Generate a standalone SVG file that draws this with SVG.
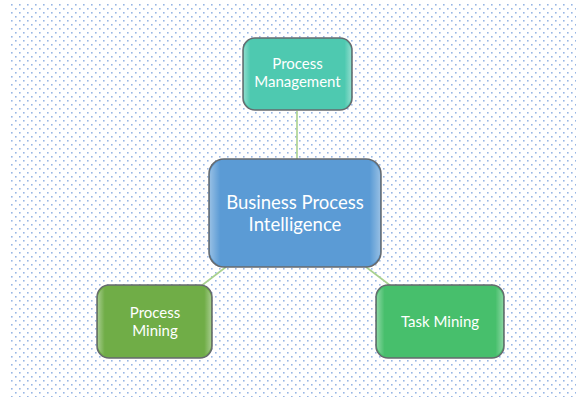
<svg xmlns="http://www.w3.org/2000/svg" width="576" height="397" viewBox="0 0 576 397">
  <defs>
    <!-- staggered dotted canvas -->
    <pattern id="dots" x="10" y="3" width="8" height="8" patternUnits="userSpaceOnUse">
      <rect x="1" y="1" width="1.6" height="1.6" fill="#98b6e4"/>
      <rect x="5" y="5" width="1.6" height="1.6" fill="#98b6e4"/>
    </pattern>
    <linearGradient id="bevel" x1="0" y1="0" x2="1" y2="0">
      <stop offset="0" stop-color="#ffffff" stop-opacity="0.35"/>
      <stop offset="0.06" stop-color="#ffffff" stop-opacity="0"/>
      <stop offset="0.94" stop-color="#ffffff" stop-opacity="0"/>
      <stop offset="1" stop-color="#ffffff" stop-opacity="0.35"/>
    </linearGradient>
  </defs>
  <style>
    .box { stroke: #666a6e; stroke-width: 1.5; }
    .shine { fill: url(#bevel); stroke: none; }
    .label { fill: #ffffff; font-family: Lato, "Open Sans", "Liberation Sans", sans-serif; text-anchor: middle; }
    .link { stroke: #a9d18e; stroke-width: 1.6; fill: none; }
  </style>

  <rect width="576" height="397" fill="#ffffff"/>
  <rect x="10" y="3" width="566" height="394" fill="url(#dots)"/>

  <g id="connectors">
    <line class="link" x1="297" y1="111" x2="297" y2="159"/>
    <line class="link" x1="226" y1="267" x2="201" y2="286"/>
    <line class="link" x1="366" y1="267" x2="391" y2="286"/>
  </g>

  <g id="process-management">
    <rect class="box" x="243" y="38" width="109" height="72" rx="12" fill="#4ec9b0"/>
    <rect class="shine" x="244" y="40" width="107" height="68" rx="11"/>
    <text class="label" font-size="15" x="297.5" y="69">Process</text>
    <text class="label" font-size="15" x="297.5" y="87">Management</text>
  </g>

  <g id="business-process-intelligence">
    <rect class="box" x="209" y="159" width="172" height="108" rx="15" fill="#5b9bd5"/>
    <rect class="shine" x="210" y="161" width="170" height="104" rx="14"/>
    <text class="label" font-size="18.5" x="295" y="209">Business Process</text>
    <text class="label" font-size="18.5" x="295" y="231">Intelligence</text>
  </g>

  <g id="process-mining">
    <rect class="box" x="97" y="285" width="115" height="73" rx="12" fill="#70ad47"/>
    <rect class="shine" x="98" y="287" width="113" height="69" rx="11"/>
    <text class="label" font-size="15" x="155" y="318">Process</text>
    <text class="label" font-size="15" x="155" y="336">Mining</text>
  </g>

  <g id="task-mining">
    <rect class="box" x="376" y="285" width="128" height="73" rx="12" fill="#47bf6c"/>
    <rect class="shine" x="377" y="287" width="126" height="69" rx="11"/>
    <text class="label" font-size="15" x="440" y="327">Task Mining</text>
  </g>
</svg>
